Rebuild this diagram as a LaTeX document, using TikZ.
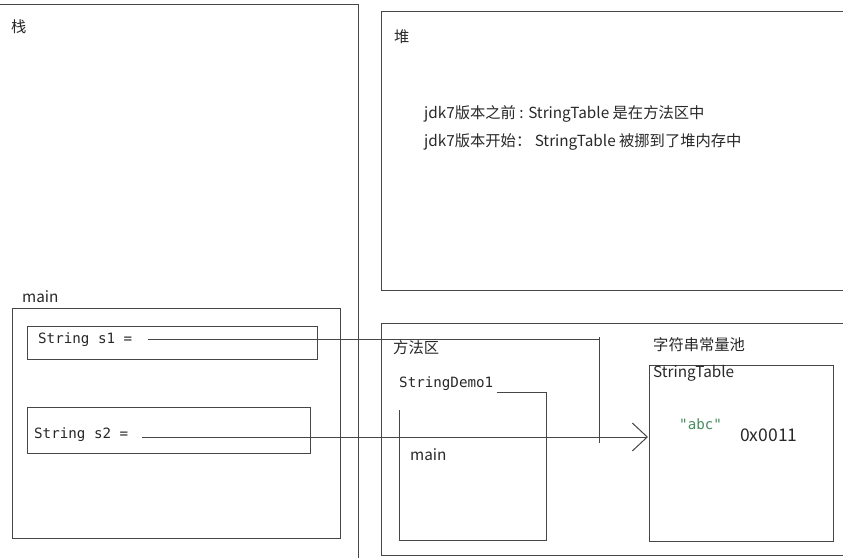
\documentclass[tikz,border=0pt]{standalone}
\usepackage{fontspec}
\setmainfont{Noto Sans CJK SC}
\setmonofont{DejaVu Sans Mono}
\usetikzlibrary{arrows.meta}
\definecolor{linegray}{RGB}{70,70,70}
\definecolor{textgray}{RGB}{40,40,40}
\definecolor{abcgreen}{RGB}{70,140,95}
\tikzset{
    box/.style={draw=linegray, line width=1pt, inner sep=0pt, anchor=north west},
    lbl/.style={anchor=west, inner sep=0pt, text=textgray, font=\fontsize{15.3}{18}\selectfont},
    code/.style={anchor=west, inner sep=0pt, text=textgray, font=\ttfamily\fontsize{14.2}{17}\selectfont},
    link/.style={draw=linegray, line width=1pt},
}
\begin{document}
\begin{tikzpicture}[x=1pt, y=-1pt]
            \useasboundingbox (0,0) rectangle (843,557);
            % regions
            \node[box, minimum width=359pt, minimum height=560pt] (stack) at (-1,4) {};
            \node[box, minimum width=470pt, minimum height=279pt] (heap) at (381,11) {};
            \node[box, minimum width=470pt, minimum height=232pt] (method) at (381,323) {};
            \node[box, minimum width=328pt, minimum height=230pt] (mainframe) at (12,308) {};
            \node[box, minimum width=290pt, minimum height=33pt] (s1box) at (27,326) {};
            \node[box, minimum width=283pt, minimum height=46pt] (s2box) at (27,407) {};
            \node[box, minimum width=184pt, minimum height=176pt] (table) at (649,365) {};
            % labels
            \node[lbl] (stacklbl) at (11,27) {栈};
            \node[lbl] (heaplbl) at (394,37) {堆};
            \node[lbl] (note1) at (424,114) {jdk7版本之前 : StringTable 是在方法区中};
            \node[lbl] (note2) at (424,142) {jdk7版本开始： StringTable 被挪到了堆内存中};
            \node[lbl] (mainlbl) at (22,297) {main};
            \node[code] (s1) at (38,340) {String s1 =};
            \node[code] (s2) at (34,435) {String s2 =};
            \node[lbl] (methodlbl) at (393,348) {方法区};
            \node[lbl] (poollbl) at (653,345) {字符串常量池};
            \node[lbl] (tablelbl) at (653,373) {StringTable};
            \node[code] (demo) at (399,384) {StringDemo1};
            \node[lbl] (demomain) at (410,455) {main};
            \node[code, text=abcgreen] (abc) at (679,424) {"abc"};
            \node[lbl, font=\fontsize{17.5}{20}\selectfont] (addr) at (740,435) {0x0011};
            % class frame
            \draw[link] (497,392) -- (546,392) -- (546,540) -- (399,540) -- (399,410);
            % references
            \coordinate (s1end) at (599,339);
            \coordinate (vtop)  at (599,337);
            \coordinate (vbot)  at (599,443);
            \coordinate (s2end) at (648,437);
            \draw[link] ([xshift=16pt]s1.east |- s1end) -- (s1end);
            \draw[link] (vtop) -- (vbot);
            \draw[link, -{Straight Barb[length=15pt,width=28pt,line width=1pt]}] ([xshift=14pt]s2.east |- s2end) -- (s2end);
        \end{tikzpicture}
\end{document}
